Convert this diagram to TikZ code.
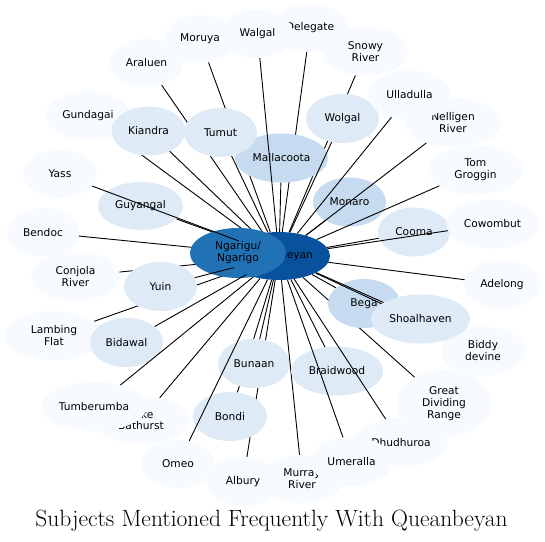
\documentclass[tikz,border=0pt]{standalone}
\usepackage{fontspec}
\newfontfamily\lab{DejaVu Sans}
\usetikzlibrary{shapes.geometric}
\definecolor{bA}{HTML}{F7FBFF}
\definecolor{bB}{HTML}{DEEBF7}
\definecolor{bC}{HTML}{C6DBEF}
\definecolor{bG}{HTML}{2171B5}
\definecolor{bH}{HTML}{08519C}
\tikzset{
  subj/.style={ellipse, inner sep=0pt, draw=none, text=black, align=center,
    font=\lab\fontsize{10.7}{12}\selectfont},
  lt/.style={subj, fill=bA},
  md/.style={subj, fill=bB},
  dk/.style={subj, fill=bC},
  sz/.style 2 args={minimum width=#1bp, minimum height=#2bp},
  link/.style={draw=black, line width=0.9bp},
}
\begin{document}
\begin{tikzpicture}[x=1bp,y=-1bp]
\useasboundingbox (0,0) rectangle (545,542);
\fill[white] (0,0) rectangle (545,542);
\node[subj, fill=bH, sz={102}{48}] (q) at (279,256) {Queanbeyan};
\node[lt, sz={76}{48}] (delegate) at (310,28) {Delegate};
\draw[link] (q) -- (delegate);
\node[lt, sz={70}{48}] (moruya) at (200,39) {Moruya};
\draw[link] (q) -- (moruya);
\node[lt, sz={73}{48}] (araluen) at (146.5,63) {Araluen};
\draw[link] (q) -- (araluen);
\node[lt, sz={84}{49}] (gundagai) at (88,115.5) {Gundagai};
\draw[link] (q) -- (gundagai);
\node[lt, sz={84}{49}] (snowy) at (365.5,51.5) {Snowy\\River};
\draw[link] (q) -- (snowy);
\node[lt, sz={72}{49}] (bendoc) at (43,232.5) {Bendoc};
\draw[link] (q) -- (bendoc);
\node[lt, sz={89}{49}] (conjola) at (75.5,276.5) {Conjola\\River};
\draw[link] (q) -- (conjola);
\node[lt, sz={98}{49}] (lambing) at (54,335.5) {Lambing\\Flat};
\draw[link] (q) -- (lambing);
\node[dk, sz={93}{49}] (mallacoota) at (281.5,158) {Mallacoota};
\draw[link] (q) -- (mallacoota);
\node[md, sz={74}{49}] (kiandra) at (148.5,131) {Kiandra};
\draw[link] (q) -- (kiandra);
\node[md, sz={73}{49}] (tumut) at (220.5,132.5) {Tumut};
\draw[link] (q) -- (tumut);
\node[lt, sz={72}{48}] (walgal) at (257.5,34) {Walgal};
\draw[link] (q) -- (walgal);
\node[md, sz={73}{49}] (wolgal) at (342.5,118.5) {Wolgal};
\draw[link] (q) -- (wolgal);
\node[dk, sz={73}{49}] (monaro) at (349.5,202) {Monaro};
\draw[link] (q) -- (monaro);
\node[lt, sz={96}{49}] (nelligen) at (453,122.5) {Nelligen\\River};
\draw[link] (q) -- (nelligen);
\node[lt, sz={83}{49}] (ulladulla) at (409.5,95) {Ulladulla};
\draw[link] (q) -- (ulladulla);
\node[lt, sz={94}{49}] (groggin) at (475.5,170) {Tom\\Groggin};
\draw[link] (q) -- (groggin);
\node[md, sz={85}{48}] (guyangal) at (140.5,206) {Guyangal};
\draw[link] (q) -- (guyangal);
\node[subj, fill=bG, sz={96}{50}] (ngarigu) at (238,253) {Ngarigu/\\Ngarigo};
\node[lt, sz={74}{48}] (yass) at (60,174) {Yass};
\draw[link] (q) -- (yass);
\node[md, sz={73}{49}] (yuin) at (160.5,286.5) {Yuin};
\draw[link] (q) -- (yuin);
\node[md, sz={73}{49}] (bidawal) at (126.5,342.5) {Bidawal};
\draw[link] (q) -- (bidawal);
\node[lt, sz={95}{48}] (bathurst) at (141,420) {Lake\\Bathurst};
\draw[link] (q) -- (bathurst);
\node[lt, sz={106}{49}] (tumberumba) at (94,406.5) {Tumberumba};
\draw[link] (q) -- (tumberumba);
\node[lt, sz={72}{49}] (albury) at (243,481.5) {Albury};
\draw[link] (q) -- (albury);
\node[md, sz={74}{49}] (bondi) at (230,416.5) {Bondi};
\draw[link] (q) -- (bondi);
\node[md, sz={72}{49}] (bunaan) at (254,363.5) {Bunaan};
\draw[link] (q) -- (bunaan);
\node[lt, sz={72}{48}] (omeo) at (178,464) {Omeo};
\draw[link] (q) -- (omeo);
\node[lt, sz={82}{48}] (murray) at (302,479) {Murray\\River};
\draw[link] (q) -- (murray);
\node[md, sz={92}{49}] (braidwood) at (337,371) {Braidwood};
\draw[link] (q) -- (braidwood);
\node[lt, sz={93}{49}] (dhudhuroa) at (401,442.5) {Dhudhuroa};
\draw[link] (q) -- (dhudhuroa);
\node[lt, sz={81}{49}] (umeralla) at (351.5,461.5) {Umeralla};
\draw[link] (q) -- (umeralla);
\node[lt, sz={94}{67}] (range) at (444,403.5) {Great\\Dividing\\Range};
\draw[link] (q) -- (range);
\node[dk, sz={72}{49}] (bega) at (364,303.5) {Bega};
\draw[link] (q) -- (bega);
\node[lt, sz={84}{49}] (biddy) at (483,351) {Biddy\\devine};
\draw[link] (q) -- (biddy);
\node[md, sz={99}{49}] (shoalhaven) at (420.5,319) {Shoalhaven};
\draw[link] (q) -- (shoalhaven);
\node[lt, sz={76}{49}] (adelong) at (502,284.5) {Adelong};
\draw[link] (q) -- (adelong);
\node[md, sz={72}{49}] (cooma) at (414,232) {Cooma};
\draw[link] (q) -- (cooma);
\node[lt, sz={92}{49}] (cowombut) at (492.5,224) {Cowombut};
\draw[link] (q) -- (cowombut);
\node[inner sep=0pt, font=\fontsize{23.6}{27}\selectfont] (title) at (271.5,521) {Subjects Mentioned Frequently With Queanbeyan};
\end{tikzpicture}
\end{document}
